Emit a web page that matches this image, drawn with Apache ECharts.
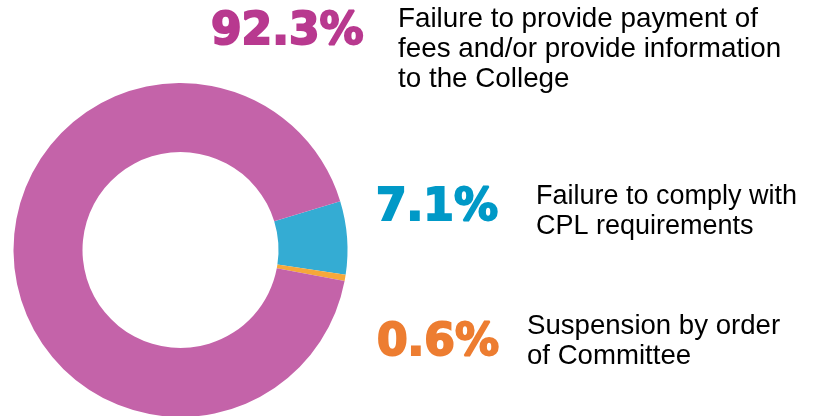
<!DOCTYPE html>
<html>
<head>
<meta charset="utf-8">
<script src="https://cdn.jsdelivr.net/npm/echarts@6/dist/echarts.min.js"></script>
<style>
  html, body { margin: 0; padding: 0; background: #fff; }
  #main { width: 813px; height: 416px; }
</style>
</head>
<body>
<div id="main"></div>
<script>
// data, in the order the slices are drawn (clockwise from startAngle)
const categories = [
  "Failure to comply with\nCPL requirements",
  "Suspension by order\nof Committee",
  "Failure to provide payment of\nfees and/or provide information\nto the College",
];
const values = [7.1, 0.6, 92.3];
const percentLabels = ["7.1%", "0.6%", "92.3%"];
const sliceColors = ["#34acd3", "#f5a83a", "#c463a9"];
const textColors = ["#0099c7", "#ed7d31", "#b8398f"];

// where each label block goes (number x/y, text x/y, text size)
const labelPos = [
  { nx: 376, ny: 208.5, tx: 536, ty: 212, fs: 27 },
  { nx: 377, ny: 344, tx: 527, ty: 341, fs: 27.6 },
  { nx: 211, ny: 32.5, tx: 398, ty: 49, fs: 27.8 },
];

const chart = echarts.init(document.getElementById("main"));

const graphics = [];
categories.forEach((name, i) => {
  const p = labelPos[i];
  // big percentage (stroke makes it heavier, like the black weight)
  graphics.push({
    type: "text",
    x: p.nx,
    y: p.ny,
    style: {
      text: percentLabels[i],
      fill: textColors[i],
      stroke: textColors[i],
      lineWidth: 2,
      font: "bold 44px 'DejaVu Sans'",
      textVerticalAlign: "middle",
    },
  });
  // description
  graphics.push({
    type: "text",
    x: p.tx,
    y: p.ty,
    style: {
      text: name,
      fill: "#000",
      font: p.fs + "px 'Liberation Sans'",
      lineHeight: 30,
      textVerticalAlign: "middle",
    },
  });
});

chart.setOption({
  animation: false,
  color: sliceColors,
  graphic: graphics,
  series: [
    {
      type: "pie",
      center: [180.5, 250],
      radius: [98, 167],
      startAngle: 17,
      clockwise: true,
      label: { show: false },
      labelLine: { show: false },
      itemStyle: { borderWidth: 0 },
      emphasis: { disabled: true },
      data: values.map((v, i) => ({ value: v, name: categories[i] })),
    },
  ],
});
</script>
</body>
</html>
